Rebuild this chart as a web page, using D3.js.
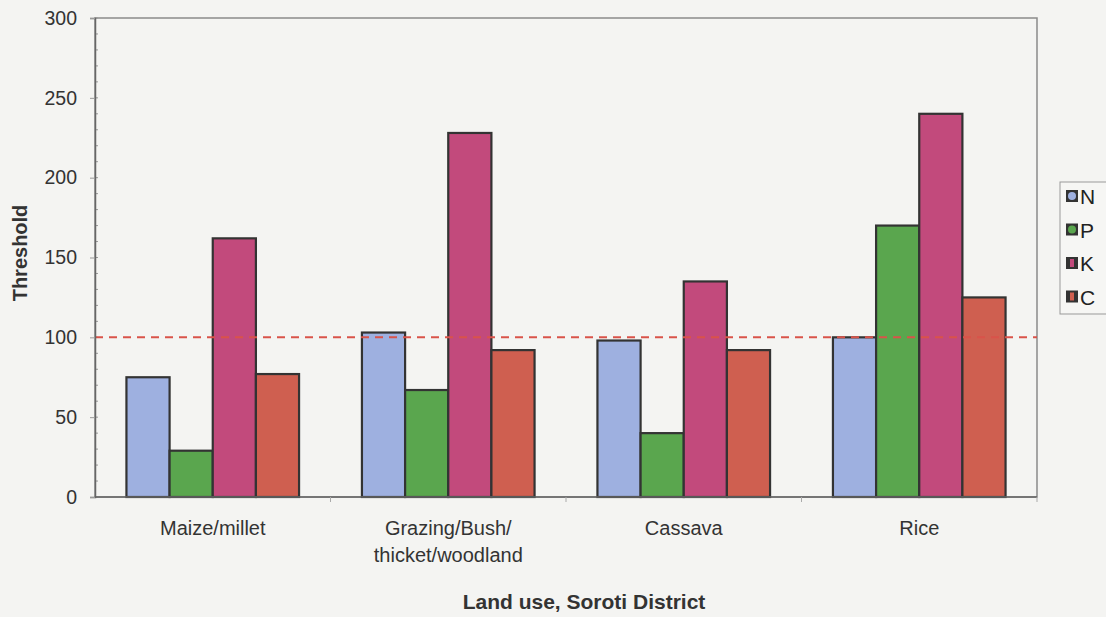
<!DOCTYPE html>
<html>
<head>
<meta charset="utf-8">
<script src="https://cdn.jsdelivr.net/npm/d3@7"></script>
<style>
  body { margin: 0; background: #f4f4f2; }
  svg { font-family: "Liberation Sans", Arial, sans-serif; }
  .tick text { font-size: 19.5px; fill: #333; }
</style>
</head>
<body>
<div id="chart"></div>
<script>
// DATA
const landUses = ["Maize/millet", "Grazing/Bush/\nthicket/woodland", "Cassava", "Rice"];
const nutrients = ["N", "P", "K", "C"];
const valuesN = [75, 103, 98, 100];
const valuesP = [29, 67, 40, 170];
const valuesK = [162, 228, 135, 240];
const valuesC = [77, 92, 92, 125];
const yTicks = [0, 50, 100, 150, 200, 250, 300];
const thresholdLine = 100;

const colors = { N: "#9eb0e0", P: "#5aa64e", K: "#c24a7c", C: "#cf5f50" };

// table built from the arrays
const rows = landUses.map((lu, i) => ({
    landUse: lu,
    N: valuesN[i], P: valuesP[i], K: valuesK[i], C: valuesC[i]
}));

// 1: BLANK SVG
const margin = { top: 18, right: 69, bottom: 120, left: 95 },
      width = 1106 - margin.left - margin.right,
      height = 617 - margin.top - margin.bottom;

const svgRoot = d3.select("#chart")
    .append("svg")
    .attr("width", 1106)
    .attr("height", 617);

const svg = svgRoot.append("g")
    .attr("transform", `translate(${margin.left},${margin.top})`);

// 2: SCALES
const x0 = d3.scaleBand()
    .domain(landUses)
    .range([0, width])
    .paddingInner(0.267)
    .paddingOuter(0.1335);

const x1 = d3.scaleBand()
    .domain(nutrients)
    .range([0, x0.bandwidth()]);

const y = d3.scaleLinear()
    .domain([0, 300])
    .range([height, 0]);

// plot area frame
svg.append("rect")
    .attr("x", 0).attr("y", 0)
    .attr("width", width).attr("height", height)
    .attr("fill", "none")
    .attr("stroke", "#8a8a8a")
    .attr("stroke-width", 1.5);

// minor ticks inside the y axis
svg.append("g")
    .selectAll("line")
    .data(d3.range(0, 301, 10))
    .enter()
    .append("line")
    .attr("x1", 0).attr("x2", 3)
    .attr("y1", d => y(d)).attr("y2", d => y(d))
    .attr("stroke", "#999")
    .attr("stroke-width", 1);

// 3: BARS
const groups = svg.append("g")
    .selectAll("g")
    .data(rows)
    .enter()
    .append("g")
    .attr("transform", d => `translate(${x0(d.landUse)},0)`);

groups.selectAll("rect")
    .data(d => nutrients.map(k => ({ key: k, value: d[k] })))
    .enter()
    .append("rect")
    .attr("x", d => x1(d.key))
    .attr("y", d => y(d.value))
    .attr("width", x1.bandwidth())
    .attr("height", d => height - y(d.value))
    .attr("fill", d => colors[d.key])
    .attr("stroke", "#333")
    .attr("stroke-width", 2.2);

// threshold line
svg.append("line")
    .attr("x1", 0).attr("x2", width)
    .attr("y1", y(thresholdLine)).attr("y2", y(thresholdLine))
    .attr("stroke", "#d9534a")
    .attr("stroke-width", 2)
    .attr("stroke-dasharray", "8,6");

// 4: AXES
const yAxis = svg.append("g")
    .call(d3.axisLeft(y).tickValues(yTicks).tickSize(5).tickPadding(13));
yAxis.select(".domain").attr("stroke", "#666").attr("stroke-width", 1.5);
yAxis.selectAll(".tick line").attr("stroke", "#999");

const xAxis = svg.append("g")
    .attr("transform", `translate(0,${height})`);
xAxis.append("line")
    .attr("x1", 0).attr("x2", width)
    .attr("stroke", "#666").attr("stroke-width", 1.5);
// ticks at the category boundaries
xAxis.selectAll("line.sep")
    .data(landUses)
    .enter()
    .append("line")
    .attr("class", "sep")
    .attr("x1", d => x0(d) + x0.bandwidth() + x0.step() * x0.paddingInner() / 2)
    .attr("x2", d => x0(d) + x0.bandwidth() + x0.step() * x0.paddingInner() / 2)
    .attr("y1", 0).attr("y2", 5)
    .attr("stroke", "#aaa");

// category labels (may be two lines)
xAxis.selectAll("text.cat")
    .data(landUses)
    .enter()
    .append("text")
    .attr("class", "cat")
    .attr("text-anchor", "middle")
    .attr("font-size", 20)
    .attr("fill", "#333")
    .attr("transform", d => `translate(${x0(d) + x0.bandwidth() / 2},38)`)
    .each(function(d) {
        d.split("\n").forEach((line, i) => {
            d3.select(this).append("tspan")
                .attr("x", 0)
                .attr("dy", i === 0 ? 0 : 27)
                .text(line);
        });
    });

// 5: LABELS
svgRoot.append("text")
    .attr("text-anchor", "middle")
    .attr("x", 584)
    .attr("y", 609)
    .attr("font-size", 21)
    .attr("font-weight", "bold")
    .attr("fill", "#333")
    .text("Land use, Soroti District");

svgRoot.append("text")
    .attr("text-anchor", "middle")
    .attr("transform", "translate(27,253) rotate(-90)")
    .attr("font-size", 20)
    .attr("font-weight", "bold")
    .attr("fill", "#333")
    .text("Threshold");

// 6: LEGEND
const legend = svgRoot.append("g")
    .attr("transform", "translate(1060,182)");

legend.append("rect")
    .attr("width", 60).attr("height", 132)
    .attr("fill", "#f6f6f4")
    .attr("stroke", "#999")
    .attr("stroke-width", 1);

const items = legend.selectAll("g.item")
    .data(nutrients)
    .enter()
    .append("g")
    .attr("class", "item")
    .attr("transform", (d, i) => `translate(6,${14 + i * 33.5})`);

items.append("rect")
    .attr("y", -6)
    .attr("width", 12).attr("height", 12)
    .attr("fill", "#333");

items.append("rect")
    .attr("x", d => (d === "K" || d === "C") ? 4 : 2)
    .attr("y", -4)
    .attr("width", d => (d === "K" || d === "C") ? 4 : 8)
    .attr("height", 8)
    .attr("rx", d => (d === "K" || d === "C") ? 0 : 4)
    .attr("fill", d => colors[d]);

items.append("text")
    .attr("x", 14)
    .attr("y", 8)
    .attr("font-size", 21)
    .attr("fill", "#222")
    .text(d => d);
</script>
</body>
</html>
